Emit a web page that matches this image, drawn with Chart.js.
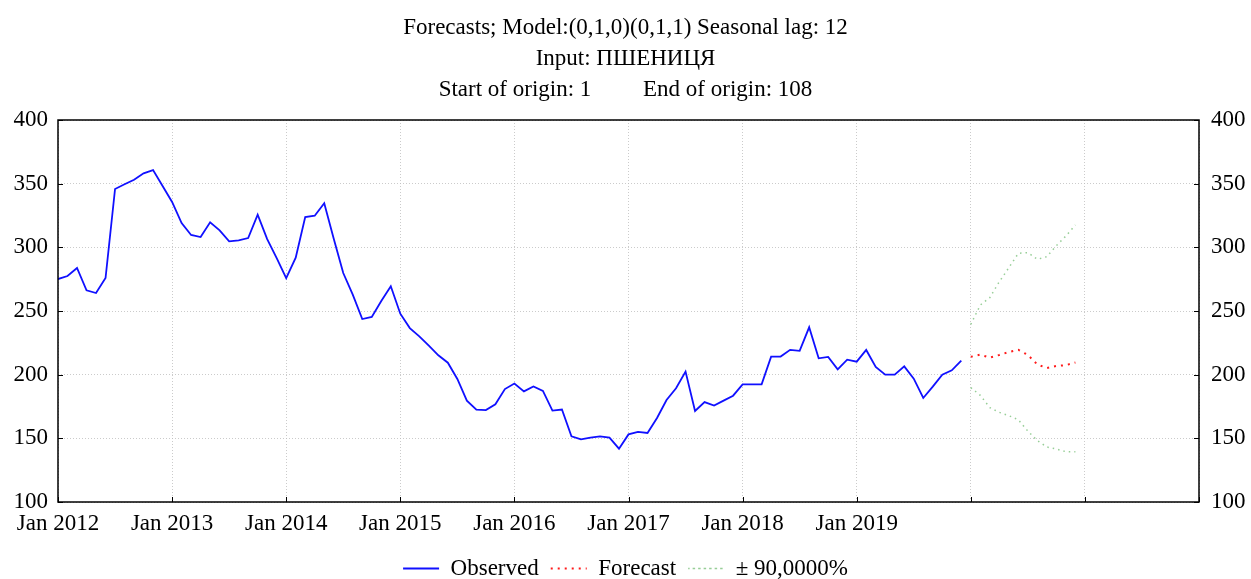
<!DOCTYPE html>
<html>
<head>
<meta charset="utf-8">
<script src="https://cdn.jsdelivr.net/npm/chart.js@4.4.1/dist/chart.umd.min.js"></script>
<style>
  html, body { margin: 0; padding: 0; background: #fff; }
  #wrap { width: 1251px; height: 579px; }
</style>
</head>
<body>
<div id="wrap"><canvas id="forecastChart"></canvas></div>
<script>
// monthly observed values, Jan 2012 .. Dec 2019
const observed = [
    275.1, 277.5, 283.8, 266.2, 264.1, 275.9, 345.8, 349.5, 353.1, 358.1, 360.7, 348.2,
    335.6, 319.1, 309.7, 308.1, 319.6, 313.3, 304.7, 305.5, 307.3, 325.7, 306.5, 291.5,
    275.8, 291.9, 323.8, 324.8, 334.7, 306.8, 279.8, 262.8, 243.7, 245.3, 257.8, 269.4,
    247.9, 236.6, 230.1, 222.8, 215.2, 209.4, 196.6, 179.6, 172.5, 172.2, 176.7, 188.7,
    193.0, 186.9, 190.7, 187.2, 171.8, 172.6, 151.6, 149.2, 150.5, 151.6, 150.5, 141.9,
    153.1, 155.0, 154.2, 166.0, 180.1, 189.3, 202.4, 171.5, 178.5, 175.7, 179.6, 183.5,
    192.4, 192.4, 192.4, 214.2, 214.2, 219.5, 218.7, 237.2, 212.8, 213.9, 204.2, 211.8,
    210.2, 219.4, 206.0, 200.0, 200.0, 206.5, 196.9, 181.7, 190.6, 200.0, 203.4, 211.0
];
// 12 month forecast (Jan 2020 .. Dec 2020) and the 90% band
const forecast = [214.0, 215.7, 213.4, 215.5, 217.8, 219.5, 215.5, 208.0, 205.2, 206.8, 207.5, 209.5];
const upperBand = [239.5, 254.7, 260.5, 273.0, 284.0, 295.3, 295.8, 290.6, 292.7, 301.3, 308.9, 317.5];
const lowerBand = [189.8, 183.8, 174.1, 170.4, 167.8, 164.6, 155.7, 148.2, 143.2, 141.6, 139.5, 139.5];

const xTickLabels = ['Jan 2012', 'Jan 2013', 'Jan 2014', 'Jan 2015', 'Jan 2016',
    'Jan 2017', 'Jan 2018', 'Jan 2019', '', '', ''];
const titleLines = [
    'Forecasts; Model:(0,1,0)(0,1,1) Seasonal lag: 12',
    'Input: ПШЕНИЦЯ',
    'Start of origin: 1         End of origin: 108'
];

const FONT = 'Liberation Serif';
const FSIZE = 23;
const startForecast = observed.length;

const toPoints = (arr, offset) => arr.map((v, i) => ({ x: i + offset, y: v }));

// frame around the plot + small inward tick marks
const framePlugin = {
    id: 'frame',
    afterDraw(chart) {
        const { ctx, chartArea: a, scales } = chart;
        ctx.save();
        ctx.strokeStyle = '#000';
        ctx.lineWidth = 1.5;
        ctx.strokeRect(a.left, a.top, a.right - a.left, a.bottom - a.top);
        ctx.lineWidth = 1;
        ctx.beginPath();
        scales.y.ticks.forEach(t => {
            const py = Math.round(scales.y.getPixelForValue(t.value)) + 0.5;
            ctx.moveTo(a.left, py); ctx.lineTo(a.left + 5, py);
            ctx.moveTo(a.right, py); ctx.lineTo(a.right - 5, py);
        });
        scales.x.ticks.forEach(t => {
            const px = Math.round(scales.x.getPixelForValue(t.value)) + 0.5;
            ctx.moveTo(px, a.bottom); ctx.lineTo(px, a.bottom - 5);
        });
        ctx.stroke();
        ctx.restore();
    }
};

const gridStyle = {
    color: 'rgba(190,190,190,0.8)',
    lineWidth: 1,
    tickLength: 0
};

const bandStyle = {
    borderColor: 'rgba(95,180,95,0.65)',
    backgroundColor: 'transparent',
    borderWidth: 1.5,
    borderDash: [1.5, 4],
    pointRadius: 0,
    tension: 0
};

new Chart(document.getElementById('forecastChart'), {
    type: 'line',
    data: {
        datasets: [
            {
                label: 'Observed',
                data: toPoints(observed, 0),
                borderColor: '#1010ff',
                backgroundColor: 'transparent',
                borderWidth: 1.8,
                pointRadius: 0,
                tension: 0
            },
            {
                label: 'Forecast',
                data: toPoints(forecast, startForecast),
                borderColor: '#ff1a1a',
                backgroundColor: 'transparent',
                borderWidth: 2,
                borderDash: [2, 5],
                pointRadius: 0,
                tension: 0
            },
            { label: '± 90,0000%', data: toPoints(upperBand, startForecast), ...bandStyle },
            { label: 'lower', data: toPoints(lowerBand, startForecast), ...bandStyle }
        ]
    },
    options: {
        responsive: true,
        maintainAspectRatio: false,
        animation: false,
        layout: { padding: { top: 10, left: 0, right: 0, bottom: 0 } },
        plugins: {
            title: {
                display: true,
                text: titleLines,
                color: '#000',
                font: { family: FONT, size: FSIZE, weight: 'normal', lineHeight: 31 / FSIZE },
                padding: { top: 2.5, bottom: 14.5 }
            },
            legend: {
                position: 'bottom',
                maxHeight: 34,
                labels: {
                    color: '#000',
                    font: { family: FONT, size: FSIZE },
                    boxWidth: 36,
                    boxHeight: 0,
                    padding: 12,
                    filter: item => item.text !== 'lower'
                }
            },
            tooltip: { enabled: false }
        },
        scales: {
            x: {
                type: 'linear',
                min: 0,
                max: 120,
                afterBuildTicks: scale => {
                    scale.ticks = xTickLabels.map((_, i) => ({ value: i * 12 }));
                },
                afterFit: scale => { scale.height = 43; },
                ticks: {
                    color: '#000',
                    font: { family: FONT, size: FSIZE },
                    padding: 8,
                    maxRotation: 0,
                    autoSkip: false,
                    callback: value => xTickLabels[value / 12]
                },
                grid: { ...gridStyle },
                border: { display: false, dash: [1, 2] }
            },
            y: {
                position: 'left',
                min: 100,
                max: 400,
                ticks: {
                    stepSize: 50,
                    color: '#000',
                    font: { family: FONT, size: FSIZE },
                    padding: 10
                },
                afterFit: scale => { scale.width = 58; },
                grid: { ...gridStyle },
                border: { display: false, dash: [1, 2] }
            },
            y2: {
                position: 'right',
                min: 100,
                max: 400,
                ticks: {
                    stepSize: 50,
                    color: '#000',
                    font: { family: FONT, size: FSIZE },
                    padding: 12
                },
                afterFit: scale => { scale.width = 52; },
                grid: { drawOnChartArea: false, tickLength: 0 },
                border: { display: false }
            }
        }
    },
    plugins: [framePlugin]
});
</script>
</body>
</html>
